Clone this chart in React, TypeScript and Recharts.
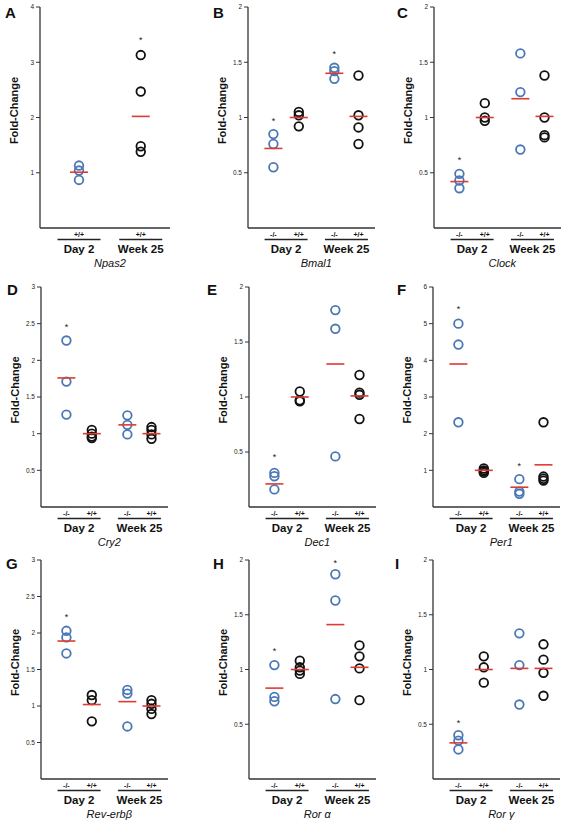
import { ScatterChart, Scatter, XAxis, YAxis } from "recharts";

// fold-change values per group: [-/- Day 2, +/+ Day 2, -/- Week 25, +/+ Week 25]
const npas2Values = [[1.13, 1.04, 0.87], [3.13, 2.47, 1.48, 1.38]];
const npas2Means = [1.01, 2.02];
const npas2Stars = [null, 3.42];

const bmal1Values = [[0.85, 0.76, 0.55], [1.05, 1.02, 0.92], [1.45, 1.42, 1.35], [1.38, 1.02, 0.91, 0.76]];
const bmal1Means = [0.72, 1.0, 1.4, 1.01];
const bmal1Stars = [0.98, null, 1.58, null];

const clockValues = [[0.49, 0.43, 0.36], [1.13, 1.0, 0.97], [1.58, 1.23, 0.71], [1.38, 1.0, 0.84, 0.82]];
const clockMeans = [0.42, 1.0, 1.17, 1.01];
const clockStars = [0.62, null, null, null];

const cry2Values = [[2.27, 1.71, 1.26], [1.05, 1.0, 0.96, 0.94], [1.25, 1.12, 0.99], [1.09, 1.05, 0.99, 0.93]];
const cry2Means = [1.76, 1.0, 1.12, 1.0];
const cry2Stars = [2.47, null, null, null];

const dec1Values = [[0.31, 0.28, 0.16], [1.05, 0.97, 0.96], [1.79, 1.62, 0.46], [1.2, 1.04, 1.02, 0.8]];
const dec1Means = [0.21, 1.0, 1.3, 1.01];
const dec1Stars = [0.46, null, null, null];

const per1Values = [[5.0, 4.43, 2.31], [1.05, 1.0, 0.97, 0.93], [0.76, 0.42, 0.36], [2.31, 0.83, 0.77, 0.72]];
const per1Means = [3.9, 1.0, 0.54, 1.15];
const per1Stars = [5.43, null, 1.15, null];

const revErbValues = [[2.03, 1.94, 1.72], [1.15, 1.08, 0.79], [1.22, 1.17, 0.72], [1.08, 1.03, 0.96, 0.89]];
const revErbMeans = [1.89, 1.02, 1.06, 1.0];
const revErbStars = [2.23, null, null, null];

const roraValues = [[1.04, 0.75, 0.71], [1.08, 1.02, 0.99, 0.96], [1.87, 1.63, 0.73], [1.22, 1.12, 1.01, 0.72]];
const roraMeans = [0.83, 1.0, 1.41, 1.02];
const roraStars = [1.18, null, 1.98, null];

const rorgValues = [[0.4, 0.35, 0.27], [1.12, 1.02, 0.88], [1.33, 1.04, 0.68], [1.23, 1.09, 0.97, 0.76]];
const rorgMeans = [0.33, 1.0, 1.01, 1.01];
const rorgStars = [0.52, null, null, null];

const genotypeLabels = ["-/-", "+/+", "-/-", "+/+"];
const stageLabels = ["Day 2", "Week 25"];

const tick05to2 = [0.5, 1, 1.5, 2];
const tick05to3 = [0.5, 1, 1.5, 2, 2.5, 3];

const BLUE = "#4a78b5";
const BLACK = "#111";
const RED = "#e03a30";
const AXIS = "#333";
const FONT = "'Liberation Sans', Arial, sans-serif";

// x positions on a 0..5 numeric axis
const GENO_X = [1, 2, 3.4, 4.35];
const GROUP_X = [1.5, 3.875];
const GENE_X = 2.69;

const ROWS = [
  { top: 7, bottom: 228, letterY: 18 },
  { top: 12, bottom: 232, letterY: 20 },
  { top: 10, bottom: 229, letterY: 19 },
];

const panels = [
  { letter: "A", gene: "Npas2", values: npas2Values, means: npas2Means, stars: npas2Stars, yMax: 4, yTicks: [1, 2, 3, 4], axisX: 40, letterX: 5, wtOnly: true },
  { letter: "B", gene: "Bmal1", values: bmal1Values, means: bmal1Means, stars: bmal1Stars, yMax: 2, yTicks: tick05to2, axisX: 58, letterX: 23 },
  { letter: "C", gene: "Clock", values: clockValues, means: clockMeans, stars: clockStars, yMax: 2, yTicks: tick05to2, axisX: 54, letterX: 17 },
  { letter: "D", gene: "Cry2", values: cry2Values, means: cry2Means, stars: cry2Stars, yMax: 3, yTicks: tick05to3, axisX: 41, letterX: 7 },
  { letter: "E", gene: "Dec1", values: dec1Values, means: dec1Means, stars: dec1Stars, yMax: 2, yTicks: tick05to2, axisX: 59, letterX: 17 },
  { letter: "F", gene: "Per1", values: per1Values, means: per1Means, stars: per1Stars, yMax: 6, yTicks: [1, 2, 3, 4, 5, 6], axisX: 53, letterX: 17 },
  { letter: "G", gene: "Rev-erbβ", values: revErbValues, means: revErbMeans, stars: revErbStars, yMax: 3, yTicks: tick05to3, axisX: 41, letterX: 6 },
  { letter: "H", gene: "Ror α", values: roraValues, means: roraMeans, stars: roraStars, yMax: 2, yTicks: tick05to2, axisX: 59, letterX: 23 },
  { letter: "I", gene: "Ror γ", values: rorgValues, means: rorgMeans, stars: rorgStars, yMax: 2, yTicks: tick05to2, axisX: 53, letterX: 15 },
];

const W = 190;
const H = 275;
const XAXIS_H = 42;

function Panel({ p, row, col }: any) {
  const r = ROWS[row];
  const xs = p.wtOnly ? GROUP_X : GENO_X;
  const colors = p.wtOnly ? [BLUE, BLACK] : [BLUE, BLACK, BLUE, BLACK];
  const blue: any[] = [];
  const black: any[] = [];
  p.values.forEach((vals: number[], i: number) =>
    vals.forEach((v) => (colors[i] === BLUE ? blue : black).push({ x: xs[i], y: v }))
  );
  const means = p.means.map((m: number, i: number) => ({ x: xs[i], y: m }));
  const stars = p.stars.flatMap((s: number | null, i: number) => (s == null ? [] : [{ x: xs[i], y: s }]));
  const ticks = p.wtOnly ? [...GROUP_X, GENE_X] : [...GENO_X, ...GROUP_X, GENE_X];
  const plotW = p.wtOnly ? 130 : 127;

  const renderTick = (t: any) => {
    const { x, y, payload } = t;
    const v = payload.value;
    const gi = GENO_X.indexOf(v);
    const si = GROUP_X.indexOf(v);
    if (v === GENE_X) {
      return (
        <text x={x} y={y + 39} textAnchor="middle" fontSize={11} fontStyle="italic" fill="#111" fontFamily={FONT}>
          {p.gene}
        </text>
      );
    }
    if (gi >= 0) {
      return (
        <text x={x} y={y + 8.5} textAnchor="middle" fontSize={7} fontWeight="bold" fill="#111" fontFamily={FONT}>
          {genotypeLabels[gi]}
        </text>
      );
    }
    return (
      <g>
        {p.wtOnly && (
          <text x={x} y={y + 8.5} textAnchor="middle" fontSize={7} fontWeight="bold" fill="#111" fontFamily={FONT}>
            +/+
          </text>
        )}
        <line x1={x - 21.5} x2={x + 21.5} y1={y + 11.5} y2={y + 11.5} stroke="#222" strokeWidth={1.6} />
        <text x={x} y={y + 25} textAnchor="middle" fontSize={11.5} fontWeight="bold" fill="#111" fontFamily={FONT}>
          {stageLabels[si]}
        </text>
      </g>
    );
  };

  const yLabel = () => {
    const lx = p.axisX - 26;
    const ly = (r.top + r.bottom) / 2 - 7;
    return (
      <text x={lx} y={ly} transform={`rotate(-90, ${lx}, ${ly})`} textAnchor="middle" dominantBaseline="central" fontSize={11} fontWeight="bold" fill="#111" fontFamily={FONT}>
        Fold-Change
      </text>
    );
  };

  const circle = (color: string) => (s: any) => (
    <circle cx={s.cx} cy={s.cy} r={4.3} fill="none" stroke={color} strokeWidth={1.8} />
  );

  return (
    <div style={{ position: "absolute", left: col * W, top: row * H, width: W, height: H }}>
      <ScatterChart
        width={W}
        height={H}
        margin={{ top: r.top, right: W - p.axisX - plotW, bottom: H - r.bottom - XAXIS_H, left: 0 }}
      >
        <XAxis
          type="number"
          dataKey="x"
          domain={[0, 5]}
          ticks={ticks}
          interval={0}
          tickLine={false}
          tickSize={0}
          tickMargin={0}
          height={XAXIS_H}
          axisLine={{ stroke: AXIS, strokeWidth: 1.3 }}
          tick={renderTick}
        />
        <YAxis
          type="number"
          dataKey="y"
          domain={[0, p.yMax]}
          ticks={p.yTicks}
          interval={0}
          width={p.axisX}
          tickSize={4}
          tickMargin={2}
          axisLine={{ stroke: AXIS, strokeWidth: 1.3 }}
          tickLine={{ stroke: AXIS, strokeWidth: 1 }}
          tick={{ fontSize: 6.5, fill: "#222", fontFamily: FONT }}
          label={yLabel}
        />
        <Scatter data={blue} shape={circle(BLUE)} isAnimationActive={false} />
        <Scatter data={black} shape={circle(BLACK)} isAnimationActive={false} />
        <Scatter
          data={means}
          isAnimationActive={false}
          shape={(s: any) => <line x1={s.cx - 9} x2={s.cx + 9} y1={s.cy} y2={s.cy} stroke={RED} strokeWidth={1.6} />}
        />
        <Scatter
          data={stars}
          isAnimationActive={false}
          shape={(s: any) => (
            <text x={s.cx} y={s.cy + 4} textAnchor="middle" fontSize={9} fill="#222" fontFamily={FONT}>
              *
            </text>
          )}
        />
      </ScatterChart>
      <svg width={W} height={30} style={{ position: "absolute", left: 0, top: 0, pointerEvents: "none" }}>
        <text x={p.letterX} y={r.letterY} fontSize={15} fontWeight="bold" fill="#111" fontFamily={FONT}>
          {p.letter}
        </text>
      </svg>
    </div>
  );
}

export default function App() {
  return (
    <div style={{ position: "absolute", left: 0, top: 0, width: 570, height: 825, background: "#fff" }}>
      {panels.map((p, i) => (
        <Panel key={p.letter} p={p} row={Math.floor(i / 3)} col={i % 3} />
      ))}
    </div>
  );
}
